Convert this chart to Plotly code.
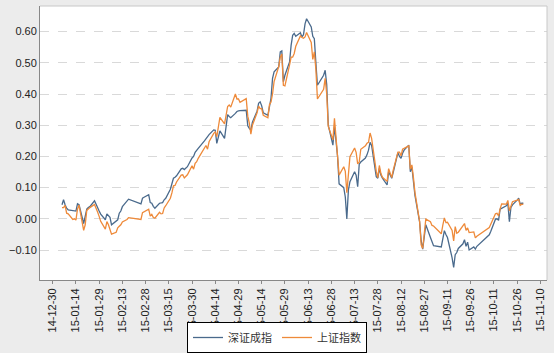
import plotly.graph_objects as go

dates = [
    "2015-01-05","2015-01-06","2015-01-07","2015-01-08","2015-01-09",
    "2015-01-12","2015-01-13","2015-01-14","2015-01-15","2015-01-16",
    "2015-01-19","2015-01-20","2015-01-21","2015-01-22","2015-01-23",
    "2015-01-26","2015-01-27","2015-01-28","2015-01-29","2015-01-30",
    "2015-02-02","2015-02-03","2015-02-04","2015-02-05","2015-02-06",
    "2015-02-09","2015-02-10","2015-02-11","2015-02-12","2015-02-13",
    "2015-02-16","2015-02-17","2015-02-25","2015-02-26","2015-02-27",
    "2015-03-02","2015-03-03","2015-03-04","2015-03-05","2015-03-06",
    "2015-03-09","2015-03-10","2015-03-11","2015-03-12","2015-03-13",
    "2015-03-16","2015-03-17","2015-03-18","2015-03-19","2015-03-20",
    "2015-03-23","2015-03-24","2015-03-25","2015-03-26","2015-03-27",
    "2015-03-30","2015-03-31","2015-04-01","2015-04-02","2015-04-03",
    "2015-04-07","2015-04-08","2015-04-09","2015-04-10",
    "2015-04-13","2015-04-14","2015-04-15","2015-04-16","2015-04-17",
    "2015-04-20","2015-04-21","2015-04-22","2015-04-23","2015-04-24",
    "2015-04-27","2015-04-28","2015-04-29","2015-04-30",
    "2015-05-04","2015-05-05","2015-05-06","2015-05-07","2015-05-08",
    "2015-05-11","2015-05-12","2015-05-13","2015-05-14","2015-05-15",
    "2015-05-18","2015-05-19","2015-05-20","2015-05-21","2015-05-22",
    "2015-05-25","2015-05-26","2015-05-27","2015-05-28","2015-05-29",
    "2015-06-01","2015-06-02","2015-06-03","2015-06-04","2015-06-05",
    "2015-06-08","2015-06-09","2015-06-10","2015-06-11","2015-06-12",
    "2015-06-15","2015-06-16","2015-06-17","2015-06-18","2015-06-19",
    "2015-06-23","2015-06-24","2015-06-25","2015-06-26",
    "2015-06-29","2015-06-30","2015-07-01","2015-07-02","2015-07-03",
    "2015-07-06","2015-07-07","2015-07-08","2015-07-09","2015-07-10",
    "2015-07-13","2015-07-14","2015-07-15","2015-07-16","2015-07-17",
    "2015-07-20","2015-07-21","2015-07-22","2015-07-23","2015-07-24",
    "2015-07-27","2015-07-28","2015-07-29","2015-07-30","2015-07-31",
    "2015-08-03","2015-08-04","2015-08-05","2015-08-06","2015-08-07",
    "2015-08-10","2015-08-11","2015-08-12","2015-08-13","2015-08-14",
    "2015-08-17","2015-08-18","2015-08-19","2015-08-20","2015-08-21",
    "2015-08-24","2015-08-25","2015-08-26","2015-08-27","2015-08-28",
    "2015-08-31","2015-09-01","2015-09-02",
    "2015-09-07","2015-09-08","2015-09-09","2015-09-10","2015-09-11",
    "2015-09-14","2015-09-15","2015-09-16","2015-09-17","2015-09-18",
    "2015-09-21","2015-09-22","2015-09-23","2015-09-24","2015-09-25",
    "2015-09-28","2015-09-29","2015-09-30",
    "2015-10-08","2015-10-09",
    "2015-10-12","2015-10-13","2015-10-14","2015-10-15","2015-10-16",
    "2015-10-19","2015-10-20","2015-10-21","2015-10-22","2015-10-23",
    "2015-10-26","2015-10-27","2015-10-28","2015-10-29","2015-10-30",
]

# 深证成指 cumulative return
szcz = [
    0.045, 0.061, 0.045, 0.034, 0.029,
    0.027, 0.027, 0.025, 0.048, 0.045,
    -0.015, 0.005, 0.031, 0.036, 0.039,
    0.058, 0.045, 0.033, 0.025, 0.015,
    -0.003, 0.016, 0.010, 0.005, -0.019,
    -0.005, -0.003, 0.018, 0.025, 0.039,
    0.058, 0.063, 0.048, 0.066, 0.069,
    0.077, 0.052, 0.050, 0.040, 0.034,
    0.050, 0.050, 0.052, 0.061, 0.066,
    0.095, 0.110, 0.130, 0.133, 0.138,
    0.160, 0.162, 0.158, 0.163, 0.167,
    0.195, 0.200, 0.213, 0.218, 0.226,
    0.250, 0.258, 0.265, 0.270,
    0.285, 0.284, 0.242, 0.262, 0.282,
    0.258, 0.300, 0.334, 0.328, 0.324,
    0.338, 0.344, 0.346, 0.347,
    0.348, 0.298, 0.290, 0.284, 0.310,
    0.345, 0.370, 0.375, 0.362, 0.340,
    0.332, 0.364, 0.386, 0.450, 0.471,
    0.487, 0.535, 0.538, 0.439, 0.460,
    0.503, 0.556, 0.588, 0.594, 0.585,
    0.596, 0.583, 0.590, 0.625, 0.641,
    0.615, 0.585, 0.577, 0.500, 0.428,
    0.460, 0.476, 0.430, 0.300,
    0.236, 0.295, 0.250, 0.200, 0.112,
    0.100, 0.070, 0.000, 0.092, 0.119,
    0.151, 0.140, 0.103, 0.175, 0.182,
    0.195, 0.205, 0.220, 0.245, 0.235,
    0.135, 0.130, 0.162, 0.140, 0.130,
    0.109, 0.151, 0.140, 0.130, 0.150,
    0.212, 0.200, 0.194, 0.210, 0.220,
    0.236, 0.151, 0.167, 0.120, 0.075,
    -0.010, -0.070, -0.097, -0.050, -0.019,
    -0.060, -0.075, -0.086,
    -0.090, -0.060, -0.038, -0.050, -0.060,
    -0.125, -0.156, -0.115, -0.108, -0.095,
    -0.080, -0.067, -0.088, -0.075, -0.100,
    -0.090, -0.097, -0.088,
    -0.051, -0.040,
    -0.001, 0.000, -0.005, 0.031, 0.034,
    0.042, 0.050, -0.009, 0.037, 0.045,
    0.060, 0.066, 0.047, 0.050, 0.050,
]

# 上证指数 cumulative return
szzs = [
    0.036, 0.036, 0.043, 0.018, 0.016,
    -0.002, 0.000, -0.004, 0.031, 0.044,
    -0.037, -0.019, 0.027, 0.033, 0.036,
    0.046, 0.036, 0.022, 0.008, -0.008,
    -0.033, -0.009, -0.019, -0.031, -0.049,
    -0.043, -0.029, -0.024, -0.019, -0.010,
    -0.002, 0.004, -0.002, 0.020, 0.023,
    0.031, 0.009, 0.014, 0.004, 0.002,
    0.021, 0.016, 0.017, 0.035, 0.042,
    0.066, 0.083, 0.106, 0.107, 0.118,
    0.140, 0.141, 0.131, 0.138, 0.141,
    0.170, 0.159, 0.178, 0.183, 0.194,
    0.225, 0.235, 0.223, 0.247,
    0.274, 0.278, 0.263, 0.297, 0.325,
    0.304, 0.327, 0.360, 0.365, 0.358,
    0.400, 0.384, 0.384, 0.373,
    0.385, 0.329, 0.307, 0.271, 0.300,
    0.340, 0.361, 0.353, 0.353, 0.332,
    0.324, 0.366, 0.374, 0.400, 0.440,
    0.488, 0.518, 0.528, 0.428, 0.426,
    0.493, 0.518, 0.518, 0.530, 0.553,
    0.586, 0.581, 0.579, 0.583, 0.597,
    0.565, 0.511, 0.535, 0.479, 0.384,
    0.415, 0.450, 0.400, 0.296,
    0.253, 0.322, 0.253, 0.209, 0.140,
    0.167, 0.152, 0.084, 0.147, 0.199,
    0.227, 0.213, 0.176, 0.182, 0.223,
    0.234, 0.242, 0.245, 0.275, 0.258,
    0.152, 0.132, 0.171, 0.145, 0.133,
    0.120, 0.161, 0.142, 0.132, 0.157,
    0.214, 0.214, 0.202, 0.223, 0.226,
    0.234, 0.159, 0.173, 0.133, 0.084,
    -0.008, -0.083, -0.095, -0.047, -0.001,
    -0.009, -0.021, -0.023,
    -0.048, -0.020, 0.003, -0.012, -0.011,
    -0.037, -0.071, -0.025, -0.046, -0.043,
    -0.024, -0.015, -0.037, -0.029, -0.044,
    -0.042, -0.061, -0.056,
    -0.028, -0.016,
    0.016, 0.018, 0.009, 0.032, 0.048,
    0.047, 0.059, 0.026, 0.042, 0.055,
    0.060, 0.062, 0.043, 0.047, 0.046,
]

series_names = ["深证成指", "上证指数"]
series_colors = ["#4a6a8c", "#ee8a3a"]

fig = go.Figure()
for name, vals, col in zip(series_names, [szcz, szzs], series_colors):
    fig.add_trace(go.Scatter(x=dates, y=vals, name=name, mode="lines",
                             line=dict(color=col, width=1.3)))

tick_font = dict(family="Liberation Sans, Arial, sans-serif", size=11, color="#222222")

fig.update_layout(
    width=554, height=353,
    margin=dict(l=40, r=7, t=6, b=73, autoexpand=False),
    paper_bgcolor="#ececec",
    plot_bgcolor="#ffffff",
    showlegend=True,
    legend=dict(
        orientation="h", xref="container", yref="container",
        x=0.5, xanchor="center", y=0.0, yanchor="bottom",
        bgcolor="#ffffff", bordercolor="#000000", borderwidth=1,
        font=dict(family="Noto Sans CJK SC", size=11, color="#333333"),
        itemwidth=30, tracegroupgap=0,
    ),
    xaxis=dict(
        type="date", automargin=False,
        range=["2014-12-21 19:00", "2015-11-14 07:00"],
        tick0="2014-12-30", dtick=15 * 86400000,
        tickformat="%y-%m-%d", tickangle=-90,
        ticks="outside", ticklen=3, tickcolor="#888888",
        showline=True, linecolor="#888888", linewidth=1,
        mirror=False, showgrid=False, zeroline=False,
        tickfont=tick_font,
    ),
    yaxis=dict(
        automargin=False,
        range=[-0.196, 0.682],
        tickvals=[-0.1, 0.0, 0.1, 0.2, 0.3, 0.4, 0.5, 0.6],
        tickformat=".2f",
        showline=True, linecolor="#888888", linewidth=1,
        showgrid=True, gridcolor="#d9d9d9", griddash="dash", gridwidth=1,
        zeroline=False, ticks="", tickfont=tick_font,
    ),
    shapes=[
        dict(type="line", xref="paper", yref="paper", x0=0, x1=1, y0=1, y1=1,
             line=dict(color="#c8c8c8", width=1)),
        dict(type="line", xref="paper", yref="paper", x0=1, x1=1, y0=0, y1=1,
             line=dict(color="#c8c8c8", width=1)),
    ],
)

fig.write_html("out.html")
